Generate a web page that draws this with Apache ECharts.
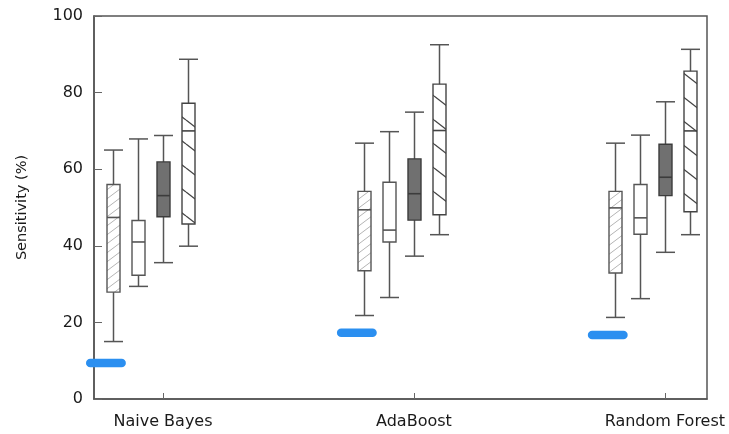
<!DOCTYPE html>
<html>
<head>
<meta charset="utf-8">
<script src="https://cdn.jsdelivr.net/npm/echarts@6/dist/echarts.min.js"></script>
<style>
  html, body { margin: 0; padding: 0; background: #fff; }
  #main { width: 729px; height: 434px; }
</style>
</head>
<body>
<div id="main"></div>
<script>
// classifiers on the x axis (placed at 1, 2, 3)
const categories = ['Naive Bayes', 'AdaBoost', 'Random Forest'];

// each box: [low, q1, median, q3, high], one per classifier
const fineHatch = [
  [15.0, 27.9, 47.4, 56.0, 65.0],
  [21.8, 33.5, 49.4, 54.2, 66.8],
  [21.3, 32.9, 49.9, 54.2, 66.8]
];
const plain = [
  [29.4, 32.3, 41.0, 46.6, 67.9],
  [26.5, 41.0, 44.1, 56.6, 69.8],
  [26.2, 43.0, 47.3, 56.0, 68.9]
];
const dark = [
  [35.6, 47.6, 53.1, 61.9, 68.8],
  [37.3, 46.7, 53.6, 62.7, 74.9],
  [38.3, 53.1, 57.9, 66.5, 77.6]
];
const coarseHatch = [
  [39.9, 45.7, 70.0, 77.2, 88.7],
  [42.9, 48.1, 70.1, 82.2, 92.5],
  [42.9, 48.9, 70.0, 85.6, 91.3]
];

// blue highlighter strokes under each group
const blueMarks = [9.4, 17.3, 16.7];

function hatchPattern(w, h, color, lw, dir) {
  const c = document.createElement('canvas');
  c.width = w; c.height = h;
  const ctx = c.getContext('2d');
  ctx.fillStyle = '#fff';
  ctx.fillRect(0, 0, w, h);
  ctx.strokeStyle = color;
  ctx.lineWidth = lw;
  for (let k = -1; k <= 1; k++) {
    ctx.beginPath();
    if (dir === 'down') {
      ctx.moveTo(0, k * h);
      ctx.lineTo(w, (k + 1) * h);
    } else {
      ctx.moveTo(0, (k + 1) * h);
      ctx.lineTo(w, k * h);
    }
    ctx.stroke();
  }
  return { image: c, repeat: 'repeat' };
}

const boxStyles = [
  { fill: hatchPattern(12, 9, '#b4b4b4', 1, 'up'), stroke: '#555' },
  { fill: '#fff', stroke: '#555' },
  { fill: '#707070', stroke: '#3c3c3c' },
  { fill: hatchPattern(31, 24, '#444', 1.3, 'down'), stroke: '#444' }
];

function boxRenderer(k) {
  const st = boxStyles[k];
  const offset = (k - 2) * 0.1;
  return function (params, api) {
    const x = api.value(0) + offset;
    const low = api.coord([x, api.value(1)]);
    const q1 = api.coord([x, api.value(2)]);
    const med = api.coord([x, api.value(3)]);
    const q3 = api.coord([x, api.value(4)]);
    const high = api.coord([x, api.value(5)]);
    const bw = 13, cw = 19;
    const cx = Math.round(low[0]) + 0.5;
    const lineStyle = { stroke: '#555', lineWidth: 1.5, fill: null };
    return {
      type: 'group',
      children: [
        { type: 'line', shape: { x1: cx, y1: low[1], x2: cx, y2: high[1] }, style: lineStyle },
        { type: 'line', shape: { x1: cx - cw / 2, y1: low[1], x2: cx + cw / 2, y2: low[1] }, style: lineStyle },
        { type: 'line', shape: { x1: cx - cw / 2, y1: high[1], x2: cx + cw / 2, y2: high[1] }, style: lineStyle },
        {
          type: 'rect',
          shape: { x: cx - bw / 2, y: q3[1], width: bw, height: q1[1] - q3[1] },
          style: { fill: st.fill, stroke: st.stroke, lineWidth: 1.4 }
        },
        { type: 'line', shape: { x1: cx - bw / 2, y1: med[1], x2: cx + bw / 2, y2: med[1] }, style: { stroke: st.stroke, lineWidth: 1.6 } }
      ]
    };
  };
}

function toRows(arr) {
  return arr.map((b, i) => [i + 1].concat(b));
}

const groups = [fineHatch, plain, dark, coarseHatch];
const series = groups.map((g, k) => ({
  type: 'custom',
  name: 's' + k,
  data: toRows(g),
  encode: { x: 0, y: [1, 2, 3, 4, 5] },
  renderItem: boxRenderer(k),
  clip: false,
  z: 3
}));

series.push({
  type: 'custom',
  name: 'marks',
  data: blueMarks.map((v, i) => [i + 1, v]),
  encode: { x: 0, y: 1 },
  clip: false,
  z: 10,
  renderItem: function (params, api) {
    const a = api.coord([api.value(0) - 0.29, api.value(1)]);
    const b = api.coord([api.value(0) - 0.165, api.value(1)]);
    return {
      type: 'line',
      shape: { x1: a[0], y1: a[1], x2: b[0], y2: b[1] },
      style: { stroke: '#2b8ff0', lineWidth: 8.5, lineCap: 'round' }
    };
  }
});

const myChart = echarts.init(document.getElementById('main'));
const option = {
  animation: false,
  grid: {
    left: 94, right: 22, top: 16, bottom: 35,
    show: true, borderColor: '#555', borderWidth: 1.5
  },
  xAxis: {
    type: 'value',
    min: 0.725,
    max: 3.168,
    axisLine: { show: true, onZero: false, lineStyle: { color: '#555', width: 1.5 } },
    splitLine: { show: false },
    axisTick: {
      show: true, inside: true, length: 6,
      customValues: [1, 2, 3],
      lineStyle: { color: '#666' }
    },
    axisLabel: {
      customValues: [1, 2, 3],
      formatter: v => categories[Math.round(v) - 1],
      margin: 15,
      color: '#1a1a1a',
      fontFamily: 'DejaVu Sans',
      fontSize: 16
    }
  },
  yAxis: {
    type: 'value',
    min: 0,
    max: 100,
    interval: 20,
    name: 'Sensitivity (%)',
    nameLocation: 'middle',
    nameGap: 64,
    nameTextStyle: { color: '#1a1a1a', fontFamily: 'DejaVu Sans', fontSize: 14.5 },
    axisLine: { show: true, lineStyle: { color: '#555', width: 1.5 } },
    splitLine: { show: false },
    axisTick: { show: true, inside: true, length: 8, lineStyle: { color: '#666' } },
    axisLabel: {
      margin: 11,
      color: '#1a1a1a',
      fontFamily: 'DejaVu Sans',
      fontSize: 16
    }
  },
  series: series
};
myChart.setOption(option);
</script>
</body>
</html>
